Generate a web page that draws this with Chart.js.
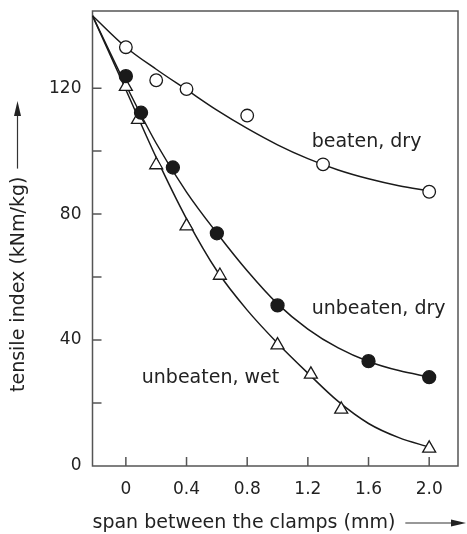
<!DOCTYPE html>
<html>
<head>
<meta charset="utf-8">
<script src="https://cdn.jsdelivr.net/npm/chart.js@4.4.1/dist/chart.umd.min.js"></script>
<style>
  html, body { margin: 0; padding: 0; background: #fff; }
  canvas { display: block; }
</style>
</head>
<body>
<canvas id="chart" width="467" height="534"></canvas>
<script>
// axes
const spanTicks = [0, 0.4, 0.8, 1.2, 1.6, 2.0];
const indexTicks = [20, 40, 60, 80, 100, 120];
const indexLabels = [0, 40, 80, 120];

// measured points (span mm, tensile index kNm/kg)
const beatenDryX = [0, 0.2, 0.4, 0.8, 1.3, 2.0];
const beatenDryY = [133, 122.5, 119.7, 111.3, 95.8, 87.1];
const unbeatenDryX = [0, 0.1, 0.31, 0.6, 1.0, 1.6, 2.0];
const unbeatenDryY = [123.8, 112.2, 94.8, 73.9, 51, 33.3, 28.2];
const unbeatenWetX = [0, 0.08, 0.2, 0.4, 0.62, 1.0, 1.22, 1.42, 2.0];
const unbeatenWetY = [120.5, 110, 95.6, 76.2, 60.5, 38.4, 29.1, 18, 5.6];

// fitted curves
const curveX = [-0.22, 0, 0.2, 0.4, 0.6, 0.8, 1.0, 1.2, 1.4, 1.6, 1.8, 2.0];
const curveBeatenDry = [143, 133, 126, 119.5, 113, 107.2, 102, 97.6, 94, 91.2, 89, 87.4];
const curveUnbeatenDry = [143, 121, 102.5, 87, 74, 62, 51.5, 43.5, 37.5, 33.2, 30.3, 28.3];
const curveUnbeatenWet = [143, 119.5, 98, 78.5, 62, 49.5, 39, 29.5, 20.5, 13.5, 9, 6];

const seriesNames = ['beaten, dry', 'unbeaten, dry', 'unbeaten, wet'];

const FONT = 'DejaVu Sans';
const INK = '#1a1a1a';

function pts(xs, ys) {
    return xs.map((x, i) => ({ x: x, y: ys[i] }));
}

function curve(ys) {
    return {
        data: pts(curveX, ys),
        showLine: true,
        borderColor: INK,
        borderWidth: 1.5,
        pointRadius: 0,
        cubicInterpolationMode: 'monotone',
        order: 2
    };
}

function markers(xs, ys, style, fill, r) {
    return {
        data: pts(xs, ys),
        showLine: false,
        pointStyle: style,
        pointRadius: r,
        pointBackgroundColor: fill,
        pointBorderColor: INK,
        pointBorderWidth: 1.3,
        order: 1
    };
}

// where the series names sit (data coordinates, left/middle anchored)
const nameAnchors = [
    { x: 1.225, y: 103 },
    { x: 1.225, y: 49.7 },
    { x: 0.105, y: 27.8 }
];

function arrow(ctx, x1, y1, x2, y2) {
    const ang = Math.atan2(y2 - y1, x2 - x1);
    const len = 15, half = 3.5;
    const bx = x2 - Math.cos(ang) * len, by = y2 - Math.sin(ang) * len;
    ctx.beginPath();
    ctx.moveTo(x1, y1);
    ctx.lineTo(bx, by);
    ctx.stroke();
    ctx.beginPath();
    ctx.moveTo(x2, y2);
    ctx.lineTo(bx - Math.sin(ang) * half, by + Math.cos(ang) * half);
    ctx.lineTo(bx + Math.sin(ang) * half, by - Math.cos(ang) * half);
    ctx.closePath();
    ctx.fill();
}

// no automatic room for labels: the plot box is fixed
function noPad(s) {
    s.paddingTop = 0;
    s.paddingBottom = 0;
    s.paddingLeft = 0;
    s.paddingRight = 0;
}

const decor = {
    id: 'decor',
    beforeDatasetsDraw(chart) {
        const { ctx, chartArea: a, scales } = chart;
        ctx.save();
        ctx.strokeStyle = '#555';
        ctx.lineWidth = 1.5;
        ctx.strokeRect(a.left, a.top, a.right - a.left, a.bottom - a.top);
        // inward ticks
        ctx.beginPath();
        spanTicks.forEach(v => {
            const px = scales.x.getPixelForValue(v);
            ctx.moveTo(px, a.bottom);
            ctx.lineTo(px, a.bottom - 9);
        });
        indexTicks.forEach(v => {
            const py = scales.y.getPixelForValue(v);
            ctx.moveTo(a.left, py);
            ctx.lineTo(a.left + 9, py);
        });
        ctx.stroke();
        ctx.restore();
    },
    afterDraw(chart) {
        const { ctx, chartArea: a, scales } = chart;
        ctx.save();
        ctx.fillStyle = '#222';
        ctx.font = '19px "' + FONT + '"';
        ctx.textBaseline = 'middle';
        ctx.textAlign = 'left';
        // series names
        seriesNames.forEach((name, i) => {
            ctx.fillText(name, scales.x.getPixelForValue(nameAnchors[i].x), scales.y.getPixelForValue(nameAnchors[i].y));
        });
        // x title + arrow
        const xt = 'span between the clamps (mm)';
        ctx.fillText(xt, a.left, 523);
        const xEnd = a.left + ctx.measureText(xt).width;
        ctx.strokeStyle = '#333';
        ctx.fillStyle = '#222';
        ctx.lineWidth = 1.2;
        arrow(ctx, xEnd + 10, 523, chart.width - 1, 523);
        // y title + arrow
        const yt = 'tensile index (kNm/kg)';
        const yStart = 392;
        ctx.save();
        ctx.translate(19, yStart);
        ctx.rotate(-Math.PI / 2);
        ctx.fillText(yt, 0, 0);
        ctx.restore();
        const yEnd = yStart - ctx.measureText(yt).width;
        arrow(ctx, 17.5, yEnd - 8, 17.5, 101);
        ctx.restore();
    }
};

new Chart(document.getElementById('chart'), {
    type: 'line',
    data: {
        datasets: [
            markers(beatenDryX, beatenDryY, 'circle', '#fff', 6.3),
            markers(unbeatenDryX, unbeatenDryY, 'circle', INK, 6.5),
            markers(unbeatenWetX, unbeatenWetY, 'triangle', '#fff', 7.5),
            curve(curveBeatenDry),
            curve(curveUnbeatenDry),
            curve(curveUnbeatenWet)
        ]
    },
    options: {
        responsive: false,
        animation: false,
        layout: { padding: { top: 11, right: 9, left: 0, bottom: 0 } },
        plugins: {
            legend: { display: false },
            tooltip: { enabled: false }
        },
        scales: {
            x: {
                type: 'linear',
                min: -0.22,
                max: 2.19,
                grid: { display: false, drawTicks: false },
                border: { display: false },
                afterBuildTicks: s => { s.ticks = spanTicks.map(v => ({ value: v })); },
                afterFit: s => { s.height = 68; noPad(s); },
                ticks: {
                    padding: 13,
                    color: '#222',
                    autoSkip: false,
                    maxRotation: 0,
                    font: { family: FONT, size: 17 },
                    callback: v => v === 0 ? '0' : v.toFixed(1)
                }
            },
            y: {
                type: 'linear',
                min: 0,
                max: 144.5,
                grid: { display: false, drawTicks: false },
                border: { display: false },
                afterBuildTicks: s => { s.ticks = indexLabels.map(v => ({ value: v })); },
                afterFit: s => { s.width = 92.5; noPad(s); },
                ticks: {
                    padding: 11,
                    color: '#222',
                    autoSkip: false,
                    font: { family: FONT, size: 17 },
                    callback: v => String(v)
                }
            }
        }
    },
    plugins: [decor]
});
</script>
</body>
</html>
